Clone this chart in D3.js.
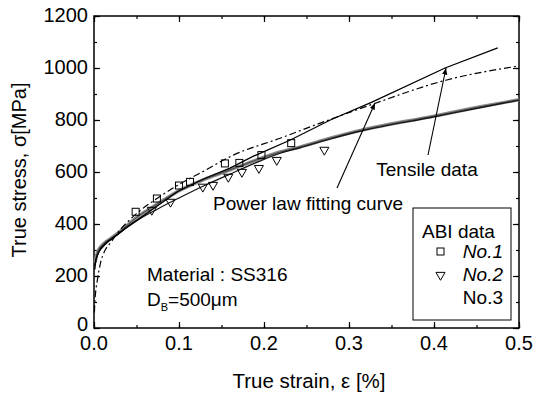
<!DOCTYPE html>
<html>
<head>
<meta charset="utf-8">
<script src="https://cdn.jsdelivr.net/npm/d3@7"></script>
<style>
  body { margin: 0; background: #fff; }
  text { font-family: "Liberation Sans", Arial, sans-serif; fill: #000; }
</style>
</head>
<body>
<div id="view"></div>
<script>
// tick labels
const xTicks = [0.0, 0.1, 0.2, 0.3, 0.4, 0.5];
const yTicks = [0, 200, 400, 600, 800, 1000, 1200];

// tensile data (solid thin line) [strain, stress]
const tensile = [[0.001, 225], [0.002, 262], [0.004, 281], [0.008, 308], [0.015, 331], [0.027, 358],
  [0.039, 389], [0.059, 434], [0.079, 480], [0.098, 524], [0.13, 575], [0.16, 615], [0.187, 660],
  [0.231, 723], [0.278, 800], [0.327, 869], [0.413, 1000], [0.475, 1077]];

// power law fitting curve (dash-dot)
const powerLaw = [[0.0005, 60], [0.001, 100], [0.002, 140], [0.004, 185], [0.008, 255], [0.012, 292],
  [0.02, 330], [0.027, 362], [0.05, 440], [0.075, 500], [0.1, 552], [0.125, 596], [0.164, 665],
  [0.219, 730], [0.258, 778], [0.327, 860], [0.415, 954], [0.5, 1008]];

// ABI fitted curves (thick band)
const abiUpper = [[0.001, 250], [0.004, 290], [0.01, 320], [0.02, 345], [0.027, 362], [0.05, 425],
  [0.075, 478], [0.1, 528], [0.13, 572], [0.16, 608], [0.19, 645], [0.219, 677], [0.242, 696],
  [0.278, 730], [0.316, 762], [0.4, 815], [0.45, 848], [0.5, 878]];
const abiLower = [[0.001, 240], [0.004, 280], [0.01, 310], [0.02, 340], [0.027, 358], [0.05, 412],
  [0.075, 458], [0.1, 500], [0.13, 548], [0.16, 592], [0.19, 635], [0.219, 672], [0.242, 693],
  [0.278, 727], [0.316, 759], [0.4, 812], [0.45, 845], [0.5, 876]];

// ABI data points
const no1 = [[0.049, 447], [0.074, 498], [0.10, 548], [0.113, 562], [0.154, 633], [0.171, 635],
  [0.197, 665], [0.232, 711]];
const no2 = [[0.068, 454], [0.09, 485], [0.128, 543], [0.14, 550], [0.158, 581], [0.174, 600],
  [0.194, 615], [0.215, 646], [0.271, 685]];

const W = 535, H = 395;
const margin = {top: 16, right: 16, bottom: 67, left: 94};
const width = W - margin.left - margin.right;
const height = H - margin.top - margin.bottom;

const svg = d3.select("#view").append("svg")
    .attr("width", W).attr("height", H);
const g = svg.append("g")
    .attr("transform", `translate(${margin.left},${margin.top})`);

const x = d3.scaleLinear().domain([0, 0.5]).range([0, width]);
const y = d3.scaleLinear().domain([0, 1200]).range([height, 0]);

// axes with inward ticks, mirrored
const xMinor = d3.range(0, 0.5001, 0.05);
const yMinor = d3.range(0, 1201, 100);
function tickAxis(axis, ticks, size) {
    return axis.tickValues(ticks).tickSize(size).tickFormat("");
}
g.append("g").attr("transform", `translate(0,${height})`).call(tickAxis(d3.axisTop(x), xMinor, 3));
g.append("g").attr("transform", `translate(0,${height})`).call(tickAxis(d3.axisTop(x), xTicks, 6));
g.append("g").call(tickAxis(d3.axisBottom(x), xMinor, 3));
g.append("g").call(tickAxis(d3.axisBottom(x), xTicks, 6));
g.append("g").call(tickAxis(d3.axisRight(y), yMinor, 3));
g.append("g").call(tickAxis(d3.axisRight(y), yTicks, 6));
g.append("g").attr("transform", `translate(${width},0)`).call(tickAxis(d3.axisLeft(y), yMinor, 3));
g.append("g").attr("transform", `translate(${width},0)`).call(tickAxis(d3.axisLeft(y), yTicks, 6));
g.selectAll(".domain").remove();
g.selectAll(".tick line").attr("stroke", "#000").attr("stroke-width", 1.2);

g.append("rect").attr("width", width).attr("height", height)
    .attr("fill", "none").attr("stroke", "#000").attr("stroke-width", 1.5);

// tick labels
g.selectAll(".xlab").data(xTicks).join("text")
    .attr("x", d => x(d)).attr("y", height + 22)
    .attr("text-anchor", "middle").style("font-size", "20px")
    .text(d => d3.format(".1f")(d));
g.selectAll(".ylab").data(yTicks).join("text")
    .attr("x", -6).attr("y", d => y(d) + (d === 0 ? 3 : 6))
    .attr("text-anchor", "end").style("font-size", "20px")
    .text(d => d);

// axis titles
svg.append("text").attr("x", 309).attr("y", 388).attr("text-anchor", "middle")
    .style("font-size", "20.5px").text("True strain, ε [%]");
svg.append("text").attr("transform", "translate(26,170) rotate(-90)").attr("text-anchor", "middle")
    .style("font-size", "20px").text("True stress, σ[MPa]");

const line = d3.line().x(d => x(d[0])).y(d => y(d[1])).curve(d3.curveMonotoneX);
const poly = d3.line().x(d => x(d[0])).y(d => y(d[1]));

// ABI band
g.append("path").datum(abiUpper).attr("fill", "none").attr("stroke", "#8a8a8a")
    .attr("stroke-width", 3.4).attr("d", line);
g.append("path").datum(abiUpper).attr("fill", "none").attr("stroke", "#333")
    .attr("stroke-width", 0.8).attr("d", line);
g.append("path").datum(abiLower).attr("fill", "none").attr("stroke", "#111")
    .attr("stroke-width", 1.2).attr("d", line);

// tensile
g.append("path").datum(tensile).attr("fill", "none").attr("stroke", "#000")
    .attr("stroke-width", 1.3).attr("d", poly);

// power law
g.append("path").datum(powerLaw).attr("fill", "none").attr("stroke", "#000")
    .attr("stroke-width", 1.2).attr("stroke-dasharray", "7,3,2,3").attr("d", line);

// markers
g.selectAll(".sq").data(no1).join("rect")
    .attr("x", d => x(d[0]) - 3.5).attr("y", d => y(d[1]) - 3.5)
    .attr("width", 7).attr("height", 7)
    .attr("fill", "none").attr("stroke", "#000").attr("stroke-width", 1);
const tri = d3.symbol().type(d3.symbolTriangle).size(36);
g.selectAll(".tri").data(no2).join("path")
    .attr("transform", d => `translate(${x(d[0])},${y(d[1])}) rotate(180)`)
    .attr("d", tri).attr("fill", "none").attr("stroke", "#000").attr("stroke-width", 1);

// annotations with arrows
svg.append("defs").append("marker").attr("id", "ah")
    .attr("viewBox", "0 0 10 10").attr("refX", 10).attr("refY", 5)
    .attr("markerWidth", 6).attr("markerHeight", 6).attr("orient", "auto")
  .append("path").attr("d", "M0,1 L10,5 L0,9 Z").attr("fill", "#000");

svg.append("line").attr("x1", 337).attr("y1", 188).attr("x2", 375).attr("y2", 103)
    .attr("stroke", "#000").attr("stroke-width", 1.1).attr("marker-end", "url(#ah)");
svg.append("line").attr("x1", 428).attr("y1", 155).attr("x2", 446).attr("y2", 68)
    .attr("stroke", "#000").attr("stroke-width", 1.1).attr("marker-end", "url(#ah)");

svg.append("text").attr("x", 308).attr("y", 210).attr("text-anchor", "middle")
    .style("font-size", "19px").text("Power law fitting curve");
svg.append("text").attr("x", 427).attr("y", 176).attr("text-anchor", "middle")
    .style("font-size", "19px").text("Tensile data");

// material info
svg.append("text").attr("x", 147).attr("y", 281).style("font-size", "19px").text("Material : SS316");
const db = svg.append("text").attr("x", 147).attr("y", 306).style("font-size", "19px");
db.append("tspan").text("D");
db.append("tspan").attr("dy", 5).style("font-size", "11px").text("B");
db.append("tspan").attr("dy", -5).text("=500μm");

// legend
const lg = svg.append("g");
lg.append("rect").attr("x", 413).attr("y", 208).attr("width", 98).attr("height", 112)
    .attr("fill", "#fff").attr("stroke", "#000").attr("stroke-width", 1);
lg.append("text").attr("x", 422).attr("y", 238).style("font-size", "19px").text("ABI data");
const legendItems = [["No.1", "square", "italic"], ["No.2", "triangle", "italic"], ["No.3", "none", "normal"]];
legendItems.forEach((it, i) => {
    const ly = 258 + i * 23;
    lg.append("text").attr("x", 503).attr("y", ly).attr("text-anchor", "end")
        .style("font-size", "19px").style("font-style", it[2]).text(it[0]);
    if (it[1] === "square") {
        lg.append("rect").attr("x", 437).attr("y", ly - 10).attr("width", 7).attr("height", 7)
            .attr("fill", "none").attr("stroke", "#000");
    } else if (it[1] === "triangle") {
        lg.append("path").attr("transform", `translate(440.5,${ly - 6}) rotate(180)`)
            .attr("d", tri).attr("fill", "none").attr("stroke", "#000");
    }
});
</script>
</body>
</html>
